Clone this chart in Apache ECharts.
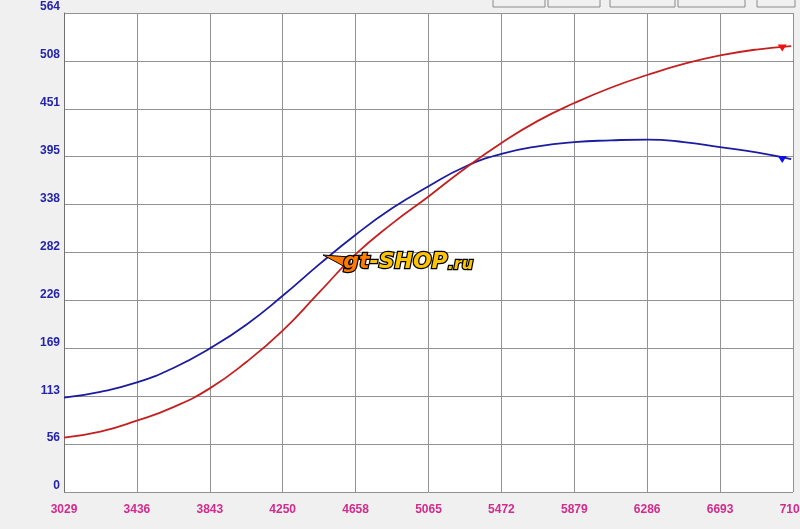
<!DOCTYPE html>
<html>
<head>
<meta charset="UTF-8">
<title>dyno</title>
<script src="https://cdn.jsdelivr.net/npm/echarts@6/dist/echarts.min.js"></script>
<style>
  html, body { margin: 0; padding: 0; background: #f0f0f0; }
  #main { width: 800px; height: 529px; }
</style>
</head>
<body>
<div id="main"></div>
<script>
// data
var rpm = [3029, 3232, 3436, 3640, 3843, 4047, 4250, 4454, 4658, 4861, 5065, 5268, 5472, 5675, 5879, 6082, 6286, 6490, 6693, 6896, 7090];
var blueVals = [111, 118, 129, 146, 169, 197, 231, 268, 303, 334, 360, 383, 398, 407, 412, 414, 415, 412, 406, 400, 392];
var redVals = [64, 71, 84, 100, 122, 153, 190, 235, 280, 316, 348, 381, 411, 437, 458, 476, 491, 504, 514, 521, 525];
var xTickLabels = ['3029', '3436', '3843', '4250', '4658', '5065', '5472', '5879', '6286', '6693', '7100'];
var yTickLabels = ['0', '56', '113', '169', '226', '282', '338', '395', '451', '508', '564'];

var rpmStart = 3029;
var xStep = 407.1;
var yStep = 56.4;

function pairs(xs, ys) {
  var out = [];
  for (var i = 0; i < xs.length; i++) out.push([xs[i] - rpmStart, ys[i]]);
  return out;
}

var chart = echarts.init(document.getElementById('main'));

// the little buttons along the top edge
var buttons = [[493, 52], [548, 52], [610, 65], [678, 67], [757, 38]];
var btnGraphics = buttons.map(function (b) {
  return {
    type: 'rect',
    shape: { x: b[0], y: -4, width: b[1], height: 11 },
    style: { fill: '#f0f0f0', stroke: '#8a8a8a', lineWidth: 1 }
  };
});

var logoFont = { fontWeight: 'bold', fontStyle: 'italic', fontFamily: 'DejaVu Sans', stroke: '#000', lineWidth: 2.5 };

var option = {
  backgroundColor: '#f0f0f0',
  animation: false,
  grid: {
    left: 64, right: 7, top: 13, bottom: 37,
    outerBoundsMode: 'none',
    containLabel: false,
    show: true, backgroundColor: '#ffffff', borderWidth: 0
  },
  xAxis: {
    type: 'value',
    min: 0,
    max: xStep * 10,
    interval: xStep,
    axisLine: { show: false },
    axisTick: { show: false },
    splitLine: { show: true, lineStyle: { color: '#929292', width: 1 } },
    axisLabel: {
      showMinLabel: true, showMaxLabel: true,
      margin: 12,
      color: '#d02c8c',
      fontFamily: 'Liberation Sans',
      fontWeight: 'bold',
      fontSize: 12,
      formatter: function (v) { return xTickLabels[Math.round(v / xStep)]; }
    }
  },
  yAxis: {
    type: 'value',
    min: 0,
    max: yStep * 10,
    interval: yStep,
    axisLine: { show: true, lineStyle: { color: '#707070', width: 1 } },
    axisTick: { show: false },
    splitLine: { show: true, lineStyle: { color: '#929292', width: 1 } },
    axisLabel: {
      showMinLabel: true, showMaxLabel: true,
      margin: 4,
      color: '#2424a8',
      fontFamily: 'Liberation Sans',
      fontWeight: 'bold',
      fontSize: 12,
      verticalAlign: 'bottom',
      formatter: function (v) { return yTickLabels[Math.round(v / yStep)]; }
    }
  },
  series: [
    {
      name: 'blue',
      type: 'line',
      smooth: true,
      symbol: 'none',
      data: pairs(rpm, blueVals),
      lineStyle: { color: '#1c1ca0', width: 1.8 },
      markPoint: {
        symbol: 'triangle', symbolSize: [9, 7], symbolRotate: 180, symbolOffset: [0, 2],
        label: { show: false },
        itemStyle: { color: '#1010e0' },
        data: [{ coord: [7040 - rpmStart, 394] }]
      }
    },
    {
      name: 'red',
      type: 'line',
      smooth: true,
      symbol: 'none',
      data: pairs(rpm, redVals),
      lineStyle: { color: '#c42020', width: 1.8 },
      markPoint: {
        symbol: 'triangle', symbolSize: [9, 7], symbolRotate: 180, symbolOffset: [0, 2],
        label: { show: false },
        itemStyle: { color: '#f01010' },
        data: [{ coord: [7040 - rpmStart, 525] }]
      }
    }
  ],
  graphic: btnGraphics.concat([
    {
      type: 'polygon',
      z: 99,
      shape: { points: [[323, 255], [350, 257], [350, 270], [338, 263]] },
      style: { fill: '#ff7a00', stroke: '#000', lineWidth: 1 }
    },
    {
      type: 'text',
      left: 342, top: 250,
      z: 100,
      style: {
        text: '{a|gt}{b|-SHOP}{c|.ru}',
        rich: {
          a: Object.assign({ fontSize: 22, fill: '#ff7a00' }, logoFont),
          b: Object.assign({ fontSize: 22, fill: '#ffc400' }, logoFont),
          c: Object.assign({ fontSize: 16, fill: '#ffc400', verticalAlign: 'bottom' }, logoFont)
        }
      }
    }
  ])
};

chart.setOption(option);
</script>
</body>
</html>
